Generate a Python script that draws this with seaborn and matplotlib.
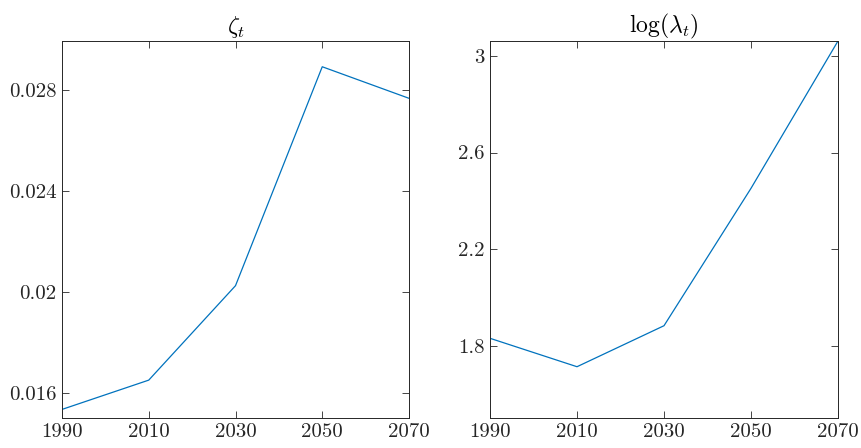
import pandas as pd
import seaborn as sns
import matplotlib.pyplot as plt

years = [1990, 2010, 2030, 2050, 2070]
zeta = [0.01535, 0.01651, 0.02025, 0.02892, 0.02767]
log_lambda = [1.832, 1.7145, 1.884, 2.452, 3.061]

zeta_ticks = [0.016, 0.02, 0.024, 0.028]
zeta_labels = ['0.016', '0.02', '0.024', '0.028']
lam_ticks = [1.8, 2.2, 2.6, 3.0]
lam_labels = ['1.8', '2.2', '2.6', '3']

sns.set_style('ticks')
plt.rcParams['font.family'] = ['serif']
plt.rcParams['font.serif'] = ['cmr10', 'DejaVu Serif']
plt.rcParams['mathtext.fontset'] = 'cm'
plt.rcParams['axes.unicode_minus'] = False

df = pd.DataFrame({'year': years, 'zeta': zeta, 'loglam': log_lambda})

fig = plt.figure(figsize=(8.61, 4.48), dpi=100)
ax1 = fig.add_axes([62 / 861, 30 / 448, 347 / 861, 377 / 448])
ax2 = fig.add_axes([490 / 861, 30 / 448, 348 / 861, 377 / 448])

dark = '#262626'
blue = '#0072BD'

sns.lineplot(data=df, x='year', y='zeta', ax=ax1, color=blue, linewidth=0.9)
sns.lineplot(data=df, x='year', y='loglam', ax=ax2, color=blue, linewidth=0.9)

ax1.set_ylim(0.01501, 0.02994)
ax1.set_yticks(zeta_ticks, labels=zeta_labels)
ax1.set_title(r'$\zeta_t$', fontsize=17, color='black', pad=6)

ax2.set_ylim(1.5025, 3.061)
ax2.set_yticks(lam_ticks, labels=lam_labels)
ax2.set_title(r'$\log(\lambda_t)$', fontsize=17, color='black', pad=6)

for ax in (ax1, ax2):
    ax.set_xlim(1990, 2070)
    ax.set_xticks(years, labels=[str(y) for y in years])
    ax.set(xlabel='', ylabel='')
    ax.tick_params(direction='in', length=5, width=0.6, top=True, right=True,
                   labelsize=15, colors=dark, pad=4)
    for s in ax.spines.values():
        s.set_visible(True)
        s.set_color(dark)
        s.set_linewidth(0.7)

fig.savefig('out.png', dpi=100)
